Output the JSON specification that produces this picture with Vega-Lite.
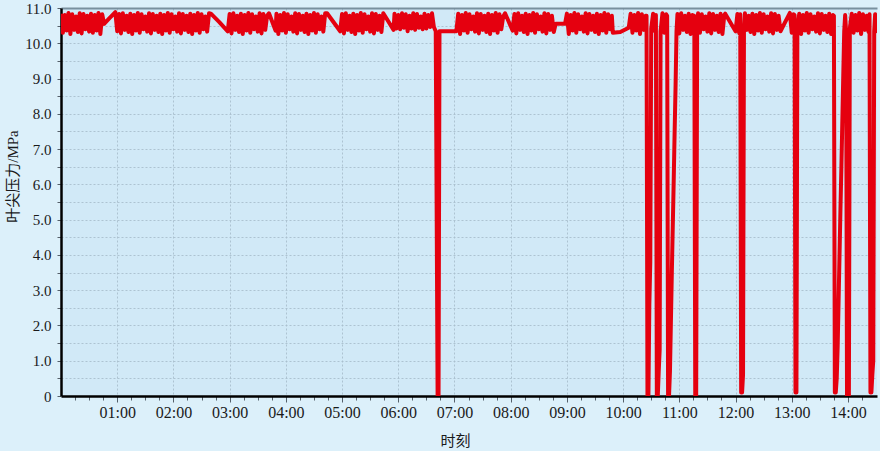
{
  "$schema": "https://vega.github.io/schema/vega-lite/v6.json",
  "autosize": "none",
  "width": 816,
  "height": 388,
  "padding": {"left": 61, "top": 8, "right": 3, "bottom": 55},
  "background": "#dcf0fa",
  "view": {"fill": "#d1e9f7", "stroke": null},
  "config": {
    "font": "Liberation Serif",
    "axis": {"labelFont": "Liberation Serif", "titleFont": "Liberation Serif, Noto Sans CJK SC", "labelColor": "#1a1a1a", "titleColor": "#1a1a1a", "titleFontWeight": "normal"}
  },
  "data": {"values": [
    {"m":0,"p":10.84},{"m":2,"p":10.3},{"m":4,"p":10.8},{"m":6,"p":10.36},{"m":8,"p":10.86},{"m":10,"p":10.26},{"m":12,"p":10.82},{"m":14,"p":10.38},{"m":16,"p":10.76},{"m":18,"p":10.32},{"m":20,"p":10.85},{"m":22,"p":10.28},{"m":24,"p":10.83},{"m":26,"p":10.4},{"m":28,"p":10.78},{"m":30,"p":10.33},{"m":32,"p":10.84},{"m":34,"p":10.3},{"m":36,"p":10.8},{"m":38,"p":10.36},{"m":40,"p":10.86},{"m":42,"p":10.26},{"m":44,"p":10.82},{"m":46,"p":10.55},
    {"m":52,"p":10.72},{"m":58,"p":10.88},
    {"m":60,"p":10.34},{"m":62,"p":10.83},{"m":64,"p":10.28},{"m":66,"p":10.85},{"m":68,"p":10.38},{"m":70,"p":10.78},{"m":72,"p":10.32},{"m":74,"p":10.84},{"m":76,"p":10.26},{"m":78,"p":10.8},{"m":80,"p":10.36},{"m":82,"p":10.86},{"m":84,"p":10.3},{"m":86,"p":10.82},{"m":88,"p":10.4},{"m":90,"p":10.76},{"m":92,"p":10.33},{"m":94,"p":10.85},{"m":96,"p":10.28},{"m":98,"p":10.83},{"m":100,"p":10.38},{"m":102,"p":10.78},{"m":104,"p":10.32},{"m":106,"p":10.84},{"m":108,"p":10.26},{"m":110,"p":10.8},{"m":112,"p":10.36},{"m":114,"p":10.86},{"m":116,"p":10.3},{"m":118,"p":10.82},{"m":120,"p":10.4},{"m":122,"p":10.76},{"m":124,"p":10.33},{"m":126,"p":10.85},{"m":128,"p":10.28},{"m":130,"p":10.83},{"m":132,"p":10.38},{"m":134,"p":10.78},{"m":136,"p":10.32},{"m":138,"p":10.84},{"m":140,"p":10.26},{"m":142,"p":10.8},{"m":144,"p":10.36},{"m":146,"p":10.86},{"m":148,"p":10.3},{"m":150,"p":10.82},{"m":152,"p":10.4},{"m":154,"p":10.76},{"m":156,"p":10.33},{"m":158,"p":10.85},{"m":160,"p":10.84},
    {"m":169,"p":10.6},{"m":178,"p":10.34},
    {"m":180,"p":10.83},{"m":182,"p":10.28},{"m":184,"p":10.85},{"m":186,"p":10.38},{"m":188,"p":10.78},{"m":190,"p":10.32},{"m":192,"p":10.84},{"m":194,"p":10.26},{"m":196,"p":10.8},{"m":198,"p":10.36},{"m":200,"p":10.86},{"m":202,"p":10.3},{"m":204,"p":10.82},{"m":206,"p":10.4},{"m":208,"p":10.76},{"m":210,"p":10.33},{"m":212,"p":10.85},{"m":214,"p":10.28},{"m":216,"p":10.83},{"m":218,"p":10.38},{"m":220,"p":10.78},{"m":222,"p":10.85},
    {"m":229,"p":10.36},
    {"m":230,"p":10.84},{"m":232,"p":10.26},{"m":234,"p":10.8},{"m":236,"p":10.36},{"m":238,"p":10.86},{"m":240,"p":10.3},{"m":242,"p":10.82},{"m":244,"p":10.4},{"m":246,"p":10.76},{"m":248,"p":10.33},{"m":250,"p":10.85},{"m":252,"p":10.28},{"m":254,"p":10.83},{"m":256,"p":10.38},{"m":258,"p":10.78},{"m":260,"p":10.32},{"m":262,"p":10.84},{"m":264,"p":10.26},{"m":266,"p":10.8},{"m":268,"p":10.36},{"m":270,"p":10.86},{"m":272,"p":10.3},{"m":274,"p":10.82},{"m":276,"p":10.4},{"m":278,"p":10.76},{"m":280,"p":10.33},{"m":282,"p":10.85},{"m":284,"p":10.85},
    {"m":298,"p":10.34},
    {"m":300,"p":10.83},{"m":302,"p":10.28},{"m":304,"p":10.85},{"m":306,"p":10.38},{"m":308,"p":10.78},{"m":310,"p":10.32},{"m":312,"p":10.84},{"m":314,"p":10.26},{"m":316,"p":10.8},{"m":318,"p":10.36},{"m":320,"p":10.86},{"m":322,"p":10.3},{"m":324,"p":10.82},{"m":326,"p":10.4},{"m":328,"p":10.76},{"m":330,"p":10.33},{"m":332,"p":10.85},{"m":334,"p":10.28},{"m":336,"p":10.83},{"m":338,"p":10.38},{"m":340,"p":10.78},{"m":342,"p":10.32},{"m":344,"p":10.85},
    {"m":355,"p":10.38},
    {"m":356,"p":10.84},{"m":358,"p":10.42},{"m":360,"p":10.8},{"m":362,"p":10.4},{"m":364,"p":10.85},{"m":366,"p":10.44},{"m":368,"p":10.82},{"m":370,"p":10.34},{"m":372,"p":10.78},{"m":374,"p":10.42},{"m":376,"p":10.85},{"m":378,"p":10.38},{"m":380,"p":10.83},{"m":382,"p":10.44},{"m":384,"p":10.76},{"m":386,"p":10.4},{"m":388,"p":10.84},{"m":390,"p":10.42},{"m":392,"p":10.8},{"m":394,"p":10.46},{"m":396,"p":10.85},{"m":398,"p":10.46},
    {"m":400,"p":10.34},{"m":401,"p":5.2},{"m":402,"p":0},{"m":403,"p":0},{"m":404,"p":10.34},{"m":422,"p":10.34},
    {"m":424,"p":10.84},{"m":426,"p":10.26},{"m":428,"p":10.8},{"m":430,"p":10.36},{"m":432,"p":10.86},{"m":434,"p":10.3},{"m":436,"p":10.82},{"m":438,"p":10.4},{"m":440,"p":10.76},{"m":442,"p":10.33},{"m":444,"p":10.85},{"m":446,"p":10.28},{"m":448,"p":10.83},{"m":450,"p":10.38},{"m":452,"p":10.78},{"m":454,"p":10.32},{"m":456,"p":10.84},{"m":458,"p":10.26},{"m":460,"p":10.8},{"m":462,"p":10.36},{"m":464,"p":10.86},{"m":466,"p":10.3},{"m":468,"p":10.82},{"m":470,"p":10.4},{"m":472,"p":10.76},{"m":474,"p":10.85},
    {"m":482,"p":10.36},
    {"m":484,"p":10.83},{"m":486,"p":10.28},{"m":488,"p":10.85},{"m":490,"p":10.38},{"m":492,"p":10.78},{"m":494,"p":10.32},{"m":496,"p":10.84},{"m":498,"p":10.26},{"m":500,"p":10.8},{"m":502,"p":10.36},{"m":504,"p":10.86},{"m":506,"p":10.3},{"m":508,"p":10.82},{"m":510,"p":10.4},{"m":512,"p":10.76},{"m":514,"p":10.33},{"m":516,"p":10.85},{"m":518,"p":10.28},{"m":520,"p":10.83},{"m":522,"p":10.38},{"m":524,"p":10.78},{"m":526,"p":10.32},{"m":528,"p":10.55},
    {"m":538,"p":10.55},
    {"m":540,"p":10.84},{"m":542,"p":10.26},{"m":544,"p":10.8},{"m":546,"p":10.36},{"m":548,"p":10.86},{"m":550,"p":10.3},{"m":552,"p":10.82},{"m":554,"p":10.4},{"m":556,"p":10.76},{"m":558,"p":10.33},{"m":560,"p":10.85},{"m":562,"p":10.28},{"m":564,"p":10.83},{"m":566,"p":10.38},{"m":568,"p":10.78},{"m":570,"p":10.32},{"m":572,"p":10.84},{"m":574,"p":10.26},{"m":576,"p":10.8},{"m":578,"p":10.36},{"m":580,"p":10.86},{"m":582,"p":10.3},{"m":584,"p":10.82},{"m":586,"p":10.4},{"m":588,"p":10.78},{"m":589,"p":10.3},
    {"m":597,"p":10.32},{"m":606,"p":10.44},
    {"m":608,"p":10.84},{"m":610,"p":10.3},{"m":612,"p":10.8},{"m":614,"p":10.36},{"m":616,"p":10.86},{"m":618,"p":10.26},{"m":620,"p":10.82},{"m":622,"p":10.38},{"m":624,"p":10.78},{"m":625,"p":10.78},{"m":626,"p":0},{"m":627,"p":0},{"m":628,"p":2.6},{"m":629,"p":3.8},{"m":630,"p":10.42},{"m":632,"p":10.84},{"m":634,"p":10.34},{"m":635,"p":10.8},{"m":636,"p":0},{"m":637,"p":0},{"m":638,"p":0.7},{"m":639,"p":1.3},{"m":640,"p":10.34},{"m":642,"p":10.85},{"m":644,"p":10.3},{"m":646,"p":10.82},{"m":647,"p":10.78},{"m":648,"p":0},{"m":649,"p":0},{"m":650,"p":0.7},{"m":651,"p":2.1},{"m":652,"p":3.5},{"m":653,"p":4.8},{"m":654,"p":6.1},{"m":655,"p":7.5},{"m":656,"p":8.8},{"m":657,"p":10.34},
    {"m":658,"p":10.83},{"m":660,"p":10.28},{"m":662,"p":10.85},{"m":664,"p":10.38},{"m":666,"p":10.78},{"m":668,"p":10.32},{"m":670,"p":10.84},{"m":672,"p":10.26},{"m":674,"p":10.8},{"m":676,"p":10.78},{"m":677,"p":0},{"m":678,"p":0},{"m":679,"p":10.34},{"m":680,"p":10.85},{"m":682,"p":10.3},{"m":684,"p":10.82},{"m":686,"p":10.4},{"m":688,"p":10.76},{"m":690,"p":10.33},{"m":692,"p":10.85},{"m":694,"p":10.28},{"m":696,"p":10.83},{"m":698,"p":10.38},{"m":700,"p":10.78},{"m":702,"p":10.32},{"m":704,"p":10.84},{"m":706,"p":10.26},{"m":708,"p":10.8},{"m":709,"p":10.84},
    {"m":720,"p":10.34},
    {"m":722,"p":10.83},{"m":724,"p":10.28},{"m":725,"p":10.82},{"m":726,"p":0.1},{"m":727,"p":0.1},{"m":728,"p":0.6},{"m":729,"p":10.42},{"m":730,"p":10.85},{"m":732,"p":10.38},{"m":734,"p":10.78},{"m":736,"p":10.32},{"m":738,"p":10.84},{"m":740,"p":10.26},{"m":742,"p":10.8},{"m":744,"p":10.36},{"m":746,"p":10.86},{"m":748,"p":10.3},{"m":750,"p":10.82},{"m":752,"p":10.4},{"m":754,"p":10.76},{"m":756,"p":10.33},{"m":758,"p":10.85},{"m":760,"p":10.28},{"m":762,"p":10.83},{"m":764,"p":10.38},{"m":766,"p":10.78},{"m":768,"p":10.34},
    {"m":778,"p":10.86},
    {"m":780,"p":10.3},{"m":782,"p":10.82},{"m":783,"p":10.8},{"m":784,"p":0.1},{"m":785,"p":0.1},{"m":786,"p":10.42},{"m":788,"p":10.84},{"m":790,"p":10.26},{"m":792,"p":10.8},{"m":794,"p":10.36},{"m":796,"p":10.86},{"m":798,"p":10.3},{"m":800,"p":10.82},{"m":802,"p":10.4},{"m":804,"p":10.76},{"m":806,"p":10.33},{"m":808,"p":10.85},{"m":810,"p":10.28},{"m":812,"p":10.83},{"m":814,"p":10.38},{"m":816,"p":10.78},{"m":818,"p":10.32},{"m":820,"p":10.84},{"m":822,"p":10.26},{"m":824,"p":10.8},{"m":825,"p":10.78},
    {"m":826,"p":0.1},{"m":827,"p":0.1},{"m":828,"p":0.5},{"m":829,"p":1.4},{"m":830,"p":2.7},{"m":831,"p":4.0},{"m":832,"p":5.3},{"m":833,"p":6.5},{"m":834,"p":7.8},{"m":835,"p":9.1},{"m":836,"p":10.34},{"m":837,"p":10.8},{"m":838,"p":10.34},{"m":839,"p":0},{"m":840,"p":0},{"m":841,"p":0},{"m":842,"p":10.42},
    {"m":844,"p":10.84},{"m":846,"p":10.3},{"m":848,"p":10.8},{"m":850,"p":10.36},{"m":852,"p":10.86},{"m":854,"p":10.26},{"m":856,"p":10.82},{"m":858,"p":10.38},{"m":860,"p":10.78},{"m":862,"p":10.32},{"m":863,"p":10.82},{"m":864,"p":0.1},{"m":865,"p":0.1},{"m":866,"p":0.6},{"m":867,"p":1.0},{"m":868,"p":10.34},{"m":869,"p":10.82},{"m":870,"p":10.34},{"m":871,"p":10.8}
  ]},
  "mark": {"type": "line", "color": "#e5000f", "strokeWidth": 4, "strokeJoin": "round", "strokeCap": "butt", "clip": true, "interpolate": "linear"},
  "encoding": {
    "x": {
      "field": "m", "type": "quantitative",
      "scale": {"domain": [0, 871], "nice": false, "zero": false},
      "axis": {
        "title": "时刻",
        "titleFontSize": 15,
        "titleX": 394, "titleY": 44, "titleBaseline": "middle", "titleAnchor": null,
        "values": [15,30,45,60,75,90,105,120,135,150,165,180,195,210,225,240,255,270,285,300,315,330,345,360,375,390,405,420,435,450,465,480,495,510,525,540,555,570,585,600,615,630,645,660,675,690,705,720,735,750,765,780,795,810,825,840,855],
        "labelExpr": "datum.value % 60 == 0 ? (datum.value < 600 ? '0' : '') + (datum.value / 60) + ':00' : ''",
        "labelFontSize": 16,
        "labelPadding": 2,
        "labelBaseline": "top",
        "labelOverlap": false,
        "labelFlush": false,
        "domainColor": "#000000", "domainWidth": 2.5,
        "tickColor": "#55606a", "tickWidth": 1,
        "tickSize": {"condition": {"test": "datum.value % 60 == 0", "value": 6}, "value": 4},
        "grid": true,
        "gridColor": "#a9bfcd", "gridDash": [2, 2], "gridWidth": 1,
        "gridOpacity": {"condition": {"test": "datum.value % 60 == 0", "value": 0.9}, "value": 0}
      }
    },
    "y": {
      "field": "p", "type": "quantitative",
      "scale": {"domain": [0, 11], "nice": false},
      "axis": {
        "title": "叶尖压力/MPa",
        "titleFontSize": 15,
        "titleX": -49, "titleY": 168, "titleAngle": 270, "titleAlign": "center", "titleBaseline": "middle", "titleAnchor": null,
        "values": [0,0.5,1,1.5,2,2.5,3,3.5,4,4.5,5,5.5,6,6.5,7,7.5,8,8.5,9,9.5,10,10.5,11],
        "labelExpr": "datum.value % 1 == 0 ? (datum.value == 0 ? '0' : format(datum.value, '.1f')) : ''",
        "labelFontSize": 15,
        "labelPadding": 6,
        "labelOverlap": false,
        "labelFlush": false,
        "domainColor": "#000000", "domainWidth": 2.5,
        "tickColor": "#55606a", "tickWidth": 1, "tickSize": 4,
        "grid": true,
        "gridColor": {"condition": {"test": "datum.value == 11", "value": "#6f8694"}, "value": "#a9bfcd"},
        "gridWidth": {"condition": {"test": "datum.value == 11", "value": 2}, "value": 1},
        "gridDash": {"condition": {"test": "datum.value == 11", "value": []}, "value": [2, 2]},
        "gridOpacity": 0.9
      }
    }
  }
}
